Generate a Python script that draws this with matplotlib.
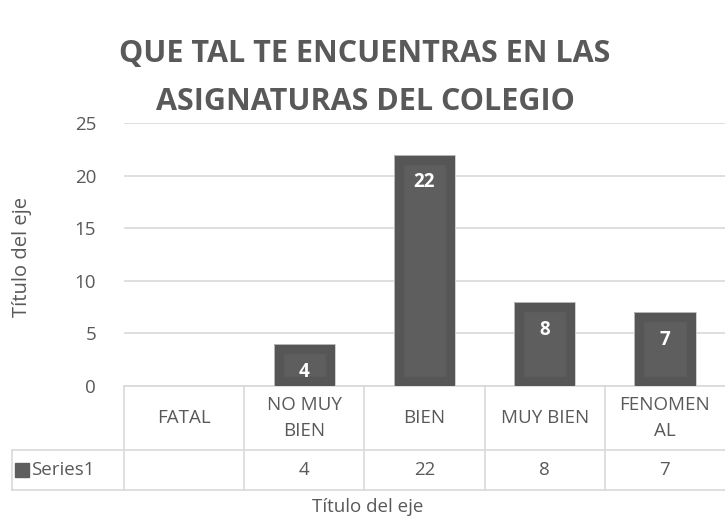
import matplotlib
matplotlib.use("Agg")
import matplotlib.pyplot as plt
from matplotlib.transforms import blended_transform_factory

plt.rcParams['font.family'] = ['Open Sans', 'DejaVu Sans']

categories = ["FATAL", "NO MUY\nBIEN", "BIEN", "MUY BIEN", "FENOMEN\nAL"]
values = [0, 4, 22, 8, 7]
table_values = ["", "4", "22", "8", "7"]
series_name = "Series1"
yticks = [0, 5, 10, 15, 20, 25]
title = "QUE TAL TE ENCUENTRAS EN LAS\nASIGNATURAS DEL COLEGIO"
axis_title = "Título del eje"

W, H = 725, 520
fig = plt.figure(figsize=(W / 100, H / 100), dpi=100)
ax = fig.add_axes([124 / W, (H - 386) / H, 601 / W, 263 / H])

text_col = "#595959"
grid_col = "#d9d9d9"
bar_col = "#5e5e5e"
edge_col = "#565656"
fs = 13.5

x = list(range(len(categories)))
bars = ax.bar(x, values, width=0.51, color=bar_col, edgecolor=edge_col,
              linewidth=14, zorder=3)
for b in bars:
    b.set_clip_path(b)
ax.bar(x, values, width=0.51, facecolor="none", edgecolor="#c8c8c8",
       linewidth=0.6, zorder=4)

for xi, v in zip(x, values):
    if v > 0:
        ax.annotate(str(v), (xi, v), xytext=(0, -20), textcoords="offset points",
                    ha="center", va="center", color="white", fontsize=13.5,
                    fontweight="bold", zorder=5)

ax.set_xlim(-0.5, len(categories) - 0.5)
ax.set_ylim(0, 25)
ax.set_yticks(yticks)
ax.set_yticklabels([str(t) for t in yticks], fontsize=fs, color=text_col)
ax.tick_params(axis="y", length=0, pad=20)
ax.set_xticks([])
ax.yaxis.grid(True, color=grid_col, linewidth=1.2, zorder=0)
for s in ax.spines.values():
    s.set_visible(False)

# data table
tr = blended_transform_factory(ax.transData, ax.transAxes)
row1 = -64 / 263
row2 = -104 / 263
left = -0.186
line_kw = dict(color=grid_col, linewidth=1.2, clip_on=False)
ax.plot([-0.5, len(categories) - 0.5], [0, 0], transform=tr, **line_kw)
ax.plot([left, 1], [row1, row1], transform=ax.transAxes, **line_kw)
ax.plot([left, 1], [row2, row2], transform=ax.transAxes, **line_kw)
ax.plot([left, left], [row1, row2], transform=ax.transAxes, **line_kw)
for i in range(len(categories)):
    ax.plot([i - 0.5, i - 0.5], [0, row2], transform=tr, **line_kw)
for i, (c, tv) in enumerate(zip(categories, table_values)):
    ax.text(i, row1 / 2, c, transform=tr, ha="center", va="center",
            fontsize=fs, color=text_col, linespacing=1.6)
    ax.text(i, (row1 + row2) / 2, tv, transform=tr, ha="center", va="center",
            fontsize=fs, color=text_col)
ax.plot([left + 0.016], [(row1 + row2) / 2], marker="s", markersize=10,
        color=bar_col, transform=ax.transAxes, clip_on=False)
ax.text(left + 0.031, (row1 + row2) / 2, series_name, transform=ax.transAxes,
        ha="left", va="center", fontsize=fs, color=text_col)

fig.text(368 / W, 1 - 507 / H, axis_title, ha="center", va="center",
         fontsize=fs, color=text_col)
fig.text(22 / W, 1 - 257 / H, axis_title, ha="center", va="center",
         rotation=90, fontsize=14.5, color=text_col)
fig.text(365 / W, 1 - 78 / H, title, ha="center", va="center", fontsize=22,
         fontweight="bold", color=text_col, linespacing=1.75)

fig.savefig("out.png", dpi=100, facecolor="white")
